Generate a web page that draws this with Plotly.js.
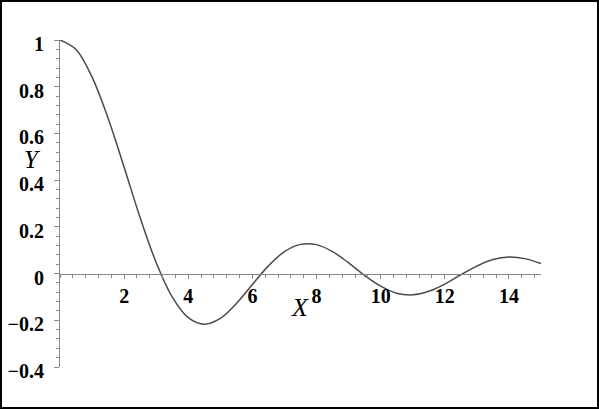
<!DOCTYPE html>
<html>
<head>
<meta charset="utf-8">
<script src="https://cdn.plot.ly/plotly-3.0.1.min.js"></script>
<style>
html,body{margin:0;padding:0;background:#fff;}
#wrap{position:relative;width:599px;height:409px;overflow:hidden;}
#plot{position:absolute;left:0;top:0;width:599px;height:409px;}
#frame{position:absolute;left:0;top:0;width:599px;height:409px;box-sizing:border-box;border:2px solid #000;pointer-events:none;}
</style>
</head>
<body>
<div id="wrap"><div id="plot"></div><div id="frame"></div></div>
<script>
// values
var xValues = [0,0.5,1,1.5,2,2.5,3,3.5,4,4.5,5,5.5,6,6.5,7,7.5,8,8.5,9,9.5,10,10.5,11,11.5,12,12.5,13,13.5,14,14.5,15];
var yValues = [1,0.959,0.841,0.665,0.455,0.239,0.047,-0.100,-0.189,-0.217,-0.192,-0.128,-0.047,0.033,0.094,0.125,0.124,0.094,0.046,-0.008,-0.054,-0.084,-0.091,-0.076,-0.045,-0.005,0.032,0.060,0.071,0.064,0.043];
var xTickVals = [2,4,6,8,10,12,14];
var xTickText = ["2","4","6","8","10","12","14"];
var yTickVals = [-0.4,-0.2,0,0.2,0.4,0.6,0.8,1];
var yTickText = ["\u22120.4","\u22120.2","0","0.2","0.4","0.6","0.8","1"];

var xRange = [0,15], yRange = [-0.4,1];
var tickFont = {family:"Liberation Serif, Times New Roman, serif", size:20, color:"#000", weight:"bold"};

var trace = {
  x: xValues, y: yValues, type:"scatter", mode:"lines",
  line:{color:"#4a4a4a", width:1.5, shape:"spline", smoothing:1},
  hoverinfo:"skip"
};

var layout = {
  width:599, height:409,
  margin:{l:60, r:57.5, t:40, b:41.5},
  paper_bgcolor:"#fff", plot_bgcolor:"#fff",
  showlegend:false,
  xaxis:{
    range:xRange, anchor:"free",
    position:(0 - yRange[0])/(yRange[1]-yRange[0]),
    showgrid:false, zeroline:false, showline:true, linecolor:"#888", linewidth:1,
    ticks:"outside", ticklen:4, tickcolor:"#888", tickwidth:1,
    tickvals:xTickVals, ticktext:xTickText, tickfont:tickFont,
    ticklabelstandoff:0,
    minor:{dtick:0.4, tick0:0, ticks:"outside", ticklen:3, tickcolor:"#888", tickwidth:1, showgrid:false}
  },
  yaxis:{
    range:yRange, anchor:"x",
    showgrid:false, zeroline:false, showline:true, linecolor:"#888", linewidth:1,
    ticks:"outside", ticklen:5, tickcolor:"#888", tickwidth:1,
    tickvals:yTickVals, ticktext:yTickText, tickfont:tickFont,
    ticklabelstandoff:6, ticklabelshift:4,
    minor:{dtick:0.04, tick0:0, ticks:"outside", ticklen:3, tickcolor:"#888", tickwidth:1, showgrid:false}
  },
  annotations:[
    {text:"X", xref:"x", yref:"y", x:7.48, y:-0.145, showarrow:false,
     font:{family:"Liberation Serif, Times New Roman, serif", size:26, style:"italic", color:"#000"}},
    {text:"Y", xref:"paper", yref:"y", x:-38/481.5, y:0.49, showarrow:false,
     font:{family:"Liberation Serif, Times New Roman, serif", size:25, style:"italic", color:"#000"}}
  ]
};

Plotly.newPlot("plot", [trace], layout, {staticPlot:true, displayModeBar:false});
</script>
</body>
</html>
